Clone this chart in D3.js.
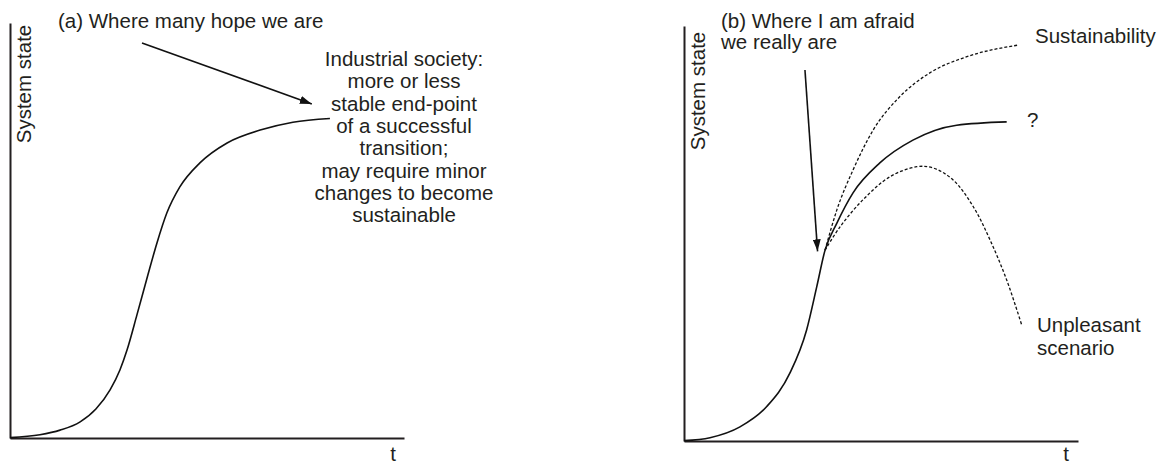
<!DOCTYPE html>
<html><head><meta charset="utf-8">
<script src="https://cdn.jsdelivr.net/npm/d3@7"></script>
<style>
html,body{margin:0;padding:0;background:#fff;}
svg{display:block;}
text{font-family:"Liberation Sans",Arial,sans-serif;font-size:20.5px;fill:#231f20;}
</style></head>
<body>
<script>
// ---- data (t, system state) in abstract units 0..100 ----
const curveA_t = [0, 7.6, 12.7, 17.8, 21.8, 25.4, 27.9, 29.7, 32.2, 34.8, 37.3, 39.8, 43.1, 48.2, 55.1, 63.5, 71.8, 81.2];
const curveA_s = [0.1, 0.8, 1.9, 3.9, 7.0, 11.6, 16.4, 21.2, 29.6, 38.6, 47.0, 54.2, 60.5, 66.3, 71.1, 74.2, 76.1, 77.0];

const curveB_t = [0, 6.6, 14.2, 21.0, 26.9, 31.1, 33.7, 35.8, 38.8, 42.9, 49.7, 58.1, 69.2, 81.9];
const curveB_s = [0.1, 0.8, 3.4, 8.3, 16.4, 26.7, 37.2, 46.0, 52.5, 59.8, 67.0, 72.5, 76.1, 76.9];

const sustain_t = [35.8, 38.8, 42.9, 48.0, 54.8, 62.4, 71.8, 84.8];
const sustain_s = [46.0, 55.7, 65.3, 74.9, 83.0, 88.7, 92.6, 95.4];

const unpleasant_t = [35.8, 39.6, 45.4, 52.3, 59.1, 63.2, 68.3, 73.4, 77.7, 81.9, 85.7];
const unpleasant_s = [46.0, 51.6, 58.1, 63.7, 66.1, 65.8, 62.9, 56.5, 48.4, 38.8, 28.0];

const arrowA = [[33.5, 95.2], [76.6, 80.5]];
const arrowB = [[30.7, 89.4], [33.9, 45.7]];

const axisLabelY = "System state";
const axisLabelX = "t";
const titleA = ["(a) Where many hope we are"];
const titleB = ["(b) Where I am afraid", "we really are"];
const noteA = ["Industrial society:", "more or less", "stable end-point", "of a successful", "transition;", "may require minor", "changes to become", "sustainable"];
const labelSustain = "Sustainability";
const labelQ = "?";
const labelUnpleasant = ["Unpleasant", "scenario"];

// ---- layout ----
const W = 1162, H = 465;
const svg = d3.select("body").append("svg").attr("width", W).attr("height", H);

const defs = svg.append("defs");
defs.append("marker").attr("id", "ah")
  .attr("viewBox", "0 0 12 8").attr("refX", 12).attr("refY", 4)
  .attr("markerWidth", 12).attr("markerHeight", 8)
  .attr("markerUnits", "userSpaceOnUse").attr("orient", "auto")
  .append("path").attr("d", "M0,0 L12,4 L0,8 Z").attr("fill", "#111");

const zip = (a, b) => a.map((v, i) => [v, b[i]]);

function panel(x0, y0) {
  const x = d3.scaleLinear().domain([0, 100]).range([x0, x0 + 394]);
  const y = d3.scaleLinear().domain([0, 100]).range([y0, y0 - 415]);
  const g = svg.append("g");
  g.append("g").attr("transform", `translate(0,${y0})`)
    .call(d3.axisBottom(x).ticks(0).tickSizeOuter(0))
    .call(s => s.select(".domain").attr("stroke", "#231f20").attr("stroke-width", 2));
  g.append("g").attr("transform", `translate(${x0},0)`)
    .call(d3.axisLeft(y).ticks(0).tickSizeOuter(0))
    .call(s => s.select(".domain").attr("stroke", "#231f20").attr("stroke-width", 2));
  const smooth = d3.line().x(d => x(d[0])).y(d => y(d[1])).curve(d3.curveMonotoneX);
  const cr = d3.line().x(d => x(d[0])).y(d => y(d[1])).curve(d3.curveCatmullRom.alpha(0.5));
  return {x, y, g, smooth, cr};
}

// Panel A
const A = panel(10, 438);
A.g.append("path").datum(zip(curveA_t, curveA_s)).attr("d", A.smooth)
  .attr("fill", "none").attr("stroke", "#111").attr("stroke-width", 1.6);
A.g.append("line")
  .attr("x1", A.x(arrowA[0][0])).attr("y1", A.y(arrowA[0][1]))
  .attr("x2", A.x(arrowA[1][0])).attr("y2", A.y(arrowA[1][1]))
  .attr("stroke", "#111").attr("stroke-width", 1.6).attr("marker-end", "url(#ah)");
A.g.append("text").attr("transform", "translate(31,84) rotate(-90)")
  .attr("text-anchor", "middle").text(axisLabelY);
A.g.append("text").attr("x", 393).attr("y", 461).attr("text-anchor", "middle").text(axisLabelX);
A.g.append("text").attr("x", 58).attr("y", 28).text(titleA[0]);
A.g.append("g").selectAll("text").data(noteA).join("text")
  .attr("x", 404).attr("y", (d, i) => 66 + i * 22.3)
  .attr("text-anchor", "middle").text(d => d);

// Panel B
const B = panel(684, 441);
B.g.append("path").datum(zip(sustain_t, sustain_s)).attr("d", B.smooth)
  .attr("fill", "none").attr("stroke", "#111").attr("stroke-width", 1.3).attr("stroke-dasharray", "3,2");
B.g.append("path").datum(zip(unpleasant_t, unpleasant_s)).attr("d", B.cr)
  .attr("fill", "none").attr("stroke", "#111").attr("stroke-width", 1.3).attr("stroke-dasharray", "3,2");
B.g.append("path").datum(zip(curveB_t, curveB_s)).attr("d", B.smooth)
  .attr("fill", "none").attr("stroke", "#111").attr("stroke-width", 1.6);
B.g.append("line")
  .attr("x1", B.x(arrowB[0][0])).attr("y1", B.y(arrowB[0][1]))
  .attr("x2", B.x(arrowB[1][0])).attr("y2", B.y(arrowB[1][1]))
  .attr("stroke", "#111").attr("stroke-width", 1.6).attr("marker-end", "url(#ah)");
B.g.append("text").attr("transform", "translate(705,91) rotate(-90)")
  .attr("text-anchor", "middle").text(axisLabelY);
B.g.append("text").attr("x", 1066).attr("y", 461).attr("text-anchor", "middle").text(axisLabelX);
B.g.append("g").selectAll("text").data(titleB).join("text")
  .attr("x", 721).attr("y", (d, i) => 28 + i * 21).text(d => d);
B.g.append("text").attr("x", 1035).attr("y", 43).text(labelSustain);
B.g.append("text").attr("x", 1027).attr("y", 127).text(labelQ);
B.g.append("g").selectAll("text").data(labelUnpleasant).join("text")
  .attr("x", 1037).attr("y", (d, i) => 332 + i * 23).text(d => d);
</script>
</body></html>
